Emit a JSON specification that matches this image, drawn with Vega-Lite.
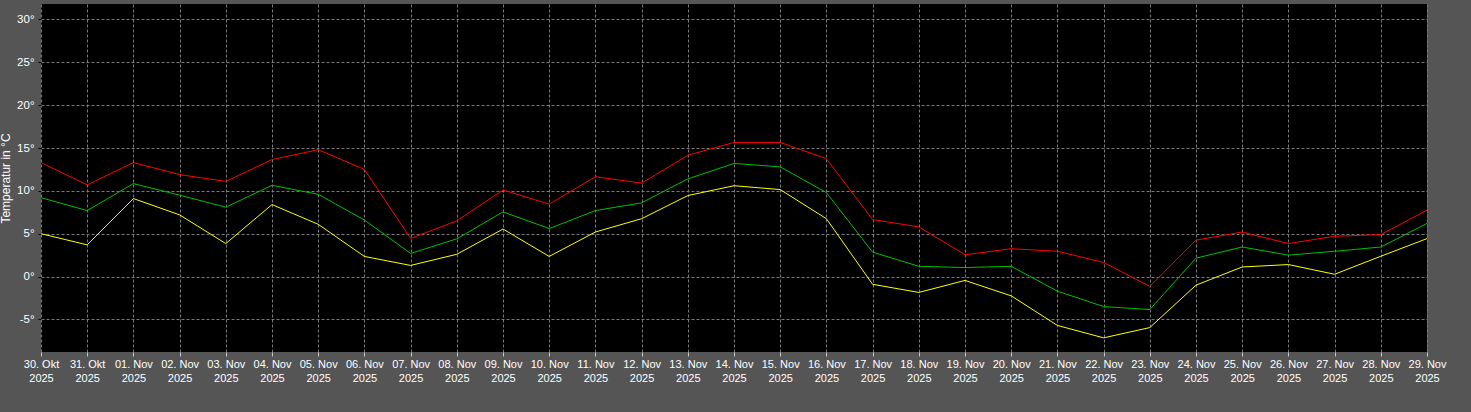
{
  "$schema": "https://vega.github.io/schema/vega-lite/v6.json",
  "width": 1386,
  "height": 348,
  "autosize": {"type": "none"},
  "padding": {"left": 41, "top": 4, "right": 44, "bottom": 60},
  "background": "#555555",
  "config": {
    "view": {"fill": "#000000", "stroke": null},
    "axis": {
      "labelFont": "Liberation Sans",
      "titleFont": "Liberation Sans",
      "labelColor": "#ffffff",
      "titleColor": "#ffffff",
      "domain": false,
      "grid": true,
      "gridColor": "#7a7a7a",
      "gridDash": [3, 2],
      "gridWidth": 1
    }
  },
  "data": {
    "values": [
      {"d": "2025-10-30T00:00:00", "max": 13.3, "mean": 9.2, "min": 5.0},
      {"d": "2025-10-31T00:00:00", "max": 10.7, "mean": 7.7, "min": 3.7},
      {"d": "2025-11-01T00:00:00", "max": 13.3, "mean": 10.85, "min": 9.1},
      {"d": "2025-11-02T00:00:00", "max": 11.9, "mean": 9.5, "min": 7.2},
      {"d": "2025-11-03T00:00:00", "max": 11.1, "mean": 8.1, "min": 3.85},
      {"d": "2025-11-04T00:00:00", "max": 13.65, "mean": 10.65, "min": 8.4},
      {"d": "2025-11-05T00:00:00", "max": 14.8, "mean": 9.6, "min": 6.1},
      {"d": "2025-11-06T00:00:00", "max": 12.5, "mean": 6.6, "min": 2.35},
      {"d": "2025-11-07T00:00:00", "max": 4.45, "mean": 2.7, "min": 1.3},
      {"d": "2025-11-08T00:00:00", "max": 6.5, "mean": 4.4, "min": 2.6},
      {"d": "2025-11-09T00:00:00", "max": 10.1, "mean": 7.55, "min": 5.55},
      {"d": "2025-11-10T00:00:00", "max": 8.45, "mean": 5.6, "min": 2.35},
      {"d": "2025-11-11T00:00:00", "max": 11.65, "mean": 7.7, "min": 5.2},
      {"d": "2025-11-12T00:00:00", "max": 10.9, "mean": 8.6, "min": 6.75},
      {"d": "2025-11-13T00:00:00", "max": 14.15, "mean": 11.4, "min": 9.45},
      {"d": "2025-11-14T00:00:00", "max": 15.65, "mean": 13.2, "min": 10.6},
      {"d": "2025-11-15T00:00:00", "max": 15.65, "mean": 12.8, "min": 10.15},
      {"d": "2025-11-16T00:00:00", "max": 13.75, "mean": 9.8, "min": 6.75},
      {"d": "2025-11-17T00:00:00", "max": 6.65, "mean": 2.85, "min": -0.9},
      {"d": "2025-11-18T00:00:00", "max": 5.8, "mean": 1.2, "min": -1.85},
      {"d": "2025-11-19T00:00:00", "max": 2.55, "mean": 1.05, "min": -0.45},
      {"d": "2025-11-20T00:00:00", "max": 3.25, "mean": 1.2, "min": -2.25},
      {"d": "2025-11-21T00:00:00", "max": 2.95, "mean": -1.7, "min": -5.7},
      {"d": "2025-11-22T00:00:00", "max": 1.65, "mean": -3.5, "min": -7.15},
      {"d": "2025-11-23T00:00:00", "max": -1.15, "mean": -3.85, "min": -5.95},
      {"d": "2025-11-24T00:00:00", "max": 4.25, "mean": 2.15, "min": -1.0},
      {"d": "2025-11-25T00:00:00", "max": 5.2, "mean": 3.45, "min": 1.12},
      {"d": "2025-11-26T00:00:00", "max": 3.85, "mean": 2.5, "min": 1.4},
      {"d": "2025-11-27T00:00:00", "max": 4.7, "mean": 2.95, "min": 0.27},
      {"d": "2025-11-28T00:00:00", "max": 4.9, "mean": 3.45, "min": 2.37},
      {"d": "2025-11-29T00:00:00", "max": 7.75, "mean": 6.2, "min": 4.43}
    ]
  },
  "transform": [{"fold": ["max", "mean", "min"], "as": ["serie", "wert"]}],
  "mark": {"type": "line", "strokeWidth": 1, "interpolate": "linear"},
  "encoding": {
    "x": {
      "field": "d",
      "type": "temporal",
      "scale": {"domain": [{"year": 2025, "month": 10, "date": 30}, {"year": 2025, "month": 11, "date": 29}]},
      "axis": {
        "title": null,
        "tickCount": {"interval": "day", "step": 1},
        "tickColor": "#c8c8c8",
        "tickSize": 4,
        "labelFontSize": 11,
        "labelLineHeight": 14,
        "labelBaseline": "top",
        "labelPadding": 2,
        "labelAngle": 0,
        "labelAlign": "center",
        "labelFlush": false,
        "labelOverlap": false,
        "labelExpr": "[timeFormat(datum.value, '%d') + '. ' + (month(datum.value) == 9 ? 'Okt' : 'Nov'), timeFormat(datum.value, '%Y')]"
      }
    },
    "y": {
      "field": "wert",
      "type": "quantitative",
      "scale": {"domain": [-8.8, 31.8], "nice": false, "zero": false},
      "axis": {
        "values": [-5, 0, 5, 10, 15, 20, 25, 30],
        "labelExpr": "datum.value + '°'",
        "labelFontSize": 11.5,
        "tickColor": "#000000",
        "tickSize": 3,
        "labelPadding": 4,
        "title": "Temperatur in °C",
        "titleFontSize": 12,
        "titleFontWeight": "normal",
        "titleAngle": -90,
        "titleAlign": "center",
        "titleBaseline": "alphabetic",
        "titleX": -31.5,
        "titleY": 174
      }
    },
    "color": {
      "field": "serie",
      "type": "nominal",
      "scale": {"domain": ["max", "mean", "min"], "range": ["#ff0000", "#00c000", "#ffff00"]},
      "legend": null
    }
  }
}
